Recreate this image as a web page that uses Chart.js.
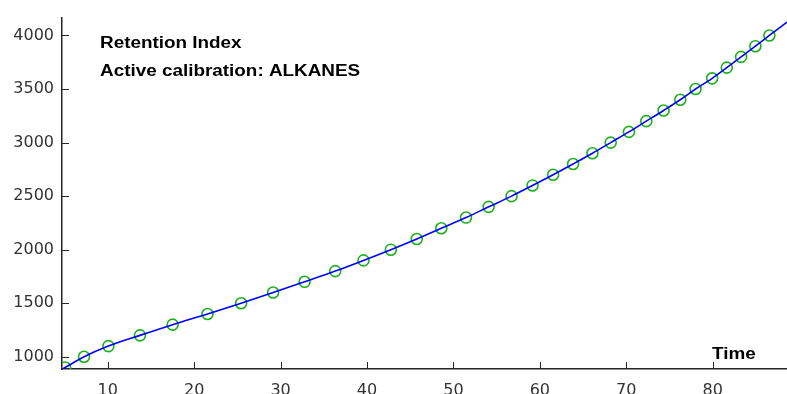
<!DOCTYPE html>
<html>
<head>
<meta charset="utf-8">
<script src="https://cdn.jsdelivr.net/npm/chart.js@4/dist/chart.umd.min.js"></script>
<style>
  html, body { margin: 0; padding: 0; background: #fff; overflow: hidden; }
  #wrap { width: 787px; height: 394px; }
</style>
</head>
<body>
<div id="wrap"><canvas id="riChart" width="787" height="394"></canvas></div>
<script>
// calibration points (retention time vs. retention index)
const calTimes = [5.07, 7.26, 10.08, 13.73, 17.51, 21.55, 25.44, 29.14, 32.78, 36.33,
                  39.60, 42.76, 45.76, 48.60, 51.46, 54.08, 56.73, 59.16, 61.54, 63.85,
                  66.09, 68.20, 70.31, 72.32, 74.32, 76.25, 78.02, 79.94, 81.63, 83.29,
                  84.94, 86.56];
const calIndex = [900, 1000, 1100, 1200, 1300, 1400, 1500, 1600, 1700, 1800,
                  1900, 2000, 2100, 2200, 2300, 2400, 2500, 2600, 2700, 2800,
                  2900, 3000, 3100, 3200, 3300, 3400, 3500, 3600, 3700, 3800,
                  3900, 4000];

// fitted curve ends (extends past first / last calibration point)
const fitStart = { x: 4.71, y: 884 };
const fitEnd = { x: 88.6, y: 4125 };

const xTicks = [10, 20, 30, 40, 50, 60, 70, 80];
const yTicks = [1000, 1500, 2000, 2500, 3000, 3500, 4000];
const xRange = [4.71, 88.6];
const yRange = [886, 4167];

const titleLines = ['Retention Index', 'Active calibration: ALKANES'];
const xTitle = 'Time';

const axisColor = '#262626';
const tickFont = { family: '"DejaVu Sans", sans-serif', size: 16 };

const calPoints = calTimes.map((t, i) => ({ x: t, y: calIndex[i] }));
const fitPoints = [fitStart, ...calPoints, fitEnd];

// text in the figure is a bit wider than Arial, stretch it a little
function wideText(ctx, txt, x, y) {
  ctx.save();
  ctx.translate(x, y);
  ctx.scale(1.18, 1);
  ctx.fillText(txt, 0, 0);
  ctx.restore();
}

// matlab style: ticks point into the plot, bold labels inside the axes
const matlabAxes = {
  id: 'matlabAxes',
  afterDatasetsDraw(chart) {
    const { ctx, chartArea, scales } = chart;
    ctx.save();
    ctx.strokeStyle = axisColor;
    ctx.lineWidth = 1;
    xTicks.forEach(v => {
      const px = Math.round(scales.x.getPixelForValue(v)) + 0.5;
      ctx.beginPath();
      ctx.moveTo(px, chartArea.bottom);
      ctx.lineTo(px, chartArea.bottom - 7);
      ctx.stroke();
    });
    yTicks.forEach(v => {
      const py = Math.round(scales.y.getPixelForValue(v)) + 0.5;
      ctx.beginPath();
      ctx.moveTo(chartArea.left, py);
      ctx.lineTo(chartArea.left + 7, py);
      ctx.stroke();
    });

    ctx.fillStyle = '#000';
    ctx.font = 'bold 16px "Liberation Sans", Arial, sans-serif';
    ctx.textAlign = 'left';
    ctx.textBaseline = 'alphabetic';
    wideText(ctx, titleLines[0], 100, 48);
    wideText(ctx, titleLines[1], 100, 76);
    wideText(ctx, xTitle, 712, 359);
    ctx.restore();
  }
};

new Chart(document.getElementById('riChart').getContext('2d'), {
  type: 'scatter',
  data: {
    datasets: [
      {
        label: 'fit',
        data: fitPoints,
        showLine: true,
        borderColor: '#0000ff',
        borderWidth: 1.6,
        pointRadius: 0,
        cubicInterpolationMode: 'monotone',
        order: 0
      },
      {
        label: 'calibration',
        data: calPoints,
        showLine: false,
        pointStyle: 'circle',
        pointRadius: 5.5,
        pointBorderWidth: 1.6,
        pointBorderColor: '#1fb01f',
        pointBackgroundColor: 'rgba(0,0,0,0)',
        order: 1
      }
    ]
  },
  options: {
    responsive: false,
    animation: false,
    layout: { autoPadding: false, padding: { top: 16, right: 0, left: 0, bottom: 0 } },
    plugins: {
      legend: { display: false },
      tooltip: { enabled: false }
    },
    scales: {
      x: {
        type: 'linear',
        min: xRange[0],
        max: xRange[1],
        afterBuildTicks: s => { s.ticks = xTicks.map(v => ({ value: v })); },
        afterFit: s => { s.height = 25; },
        grid: { display: false, drawTicks: false },
        border: { display: true, color: axisColor, width: 1.5 },
        ticks: {
          color: '#333',
          padding: 12,
          maxRotation: 0,
          font: tickFont,
          callback: v => String(v)
        }
      },
      y: {
        type: 'linear',
        min: yRange[0],
        max: yRange[1],
        afterBuildTicks: s => { s.ticks = yTicks.map(v => ({ value: v })); },
        afterFit: s => { s.width = 62; },
        grid: { display: false, drawTicks: false },
        border: { display: true, color: axisColor, width: 1.5 },
        ticks: {
          color: '#333',
          padding: 8,
          font: tickFont,
          callback: v => String(v)
        }
      }
    }
  },
  plugins: [matlabAxes]
});
</script>
</body>
</html>
